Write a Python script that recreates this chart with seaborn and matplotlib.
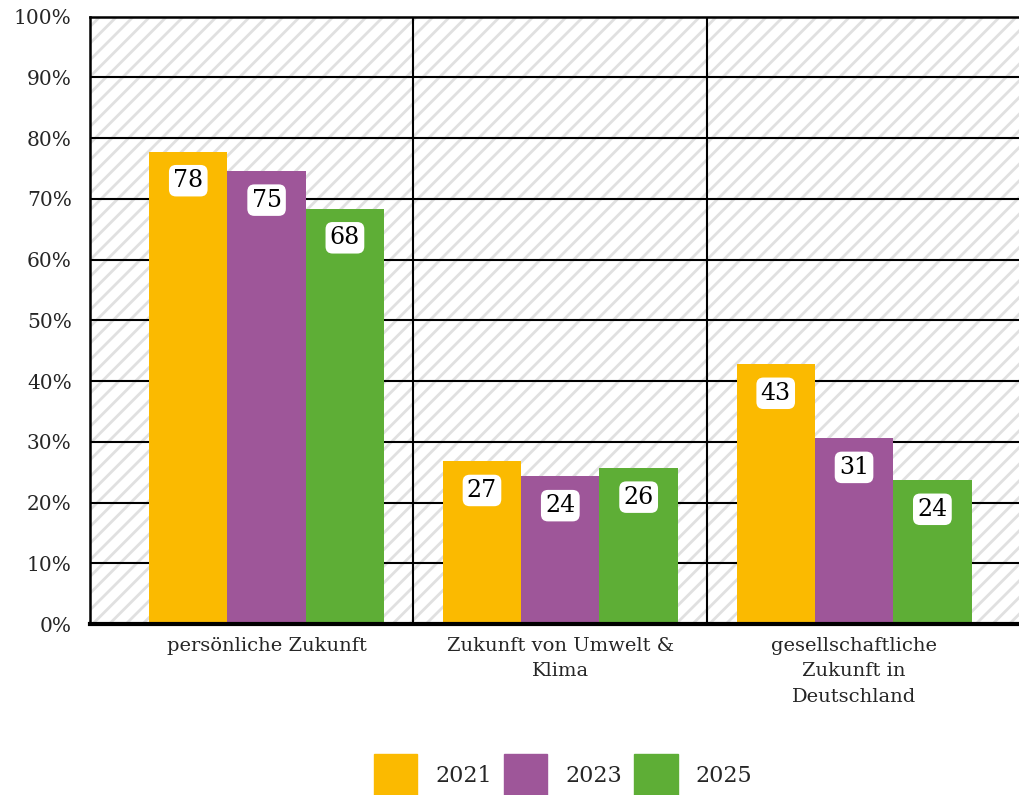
import matplotlib
matplotlib.use("Agg")
import matplotlib.pyplot as plt
import matplotlib.patches as mpatches
import pandas as pd
import seaborn as sns

categories = [
    "persönliche Zukunft",
    "Zukunft von Umwelt &\nKlima",
    "gesellschaftliche\nZukunft in\nDeutschland",
]
years = ["2021", "2023", "2025"]
values_2021 = [77.8, 26.8, 42.8]
values_2023 = [74.6, 24.3, 30.6]
values_2025 = [68.4, 25.7, 23.7]
colors = ["#FBBA00", "#9E5699", "#5EAE36"]

rows = []
for year, vals in zip(years, [values_2021, values_2023, values_2025]):
    for cat, v in zip(categories, vals):
        rows.append({"Kategorie": cat, "Jahr": year, "Wert": v})
df = pd.DataFrame(rows)

sns.set_theme(style="white")
plt.rcParams["font.family"] = ["DejaVu Serif"]
plt.rcParams["hatch.linewidth"] = 2.0
plt.rcParams["hatch.color"] = "#e0e0e0"

fig = plt.figure(figsize=(10.2, 7.95), dpi=100)
ax = fig.add_axes([0.088, 0.215, 0.912, 0.764])

sns.barplot(
    data=df,
    x="Kategorie",
    y="Wert",
    hue="Jahr",
    order=categories,
    hue_order=years,
    palette=colors,
    width=0.8,
    saturation=1,
    ax=ax,
    zorder=3,
    linewidth=0,
)

# hatched background
ax.add_patch(
    mpatches.Rectangle(
        (0, 0), 1, 1, transform=ax.transAxes, facecolor="white",
        edgecolor="#e0e0e0", hatch="//", linewidth=0, zorder=0,
    )
)

for container in ax.containers:
    for bar in container:
        h = bar.get_height()
        ax.annotate(
            f"{h:.0f}",
            (bar.get_x() + bar.get_width() / 2, h),
            xytext=(0, -21), textcoords="offset points",
            ha="center", va="center", fontsize=17, color="black", zorder=5,
            bbox=dict(boxstyle="round,pad=0.18,rounding_size=0.3",
                      facecolor="white", edgecolor="none"),
        )

ax.set_xlim(-0.602, 2.565)
ax.set_ylim(0, 100)
ax.set_yticks(range(0, 101, 10))
ax.set_yticklabels([f"{t}%" for t in range(0, 101, 10)], fontsize=14.5)
ax.tick_params(axis="y", length=0, pad=13)
ax.tick_params(axis="x", length=0, pad=9, labelsize=14)
for lbl in ax.get_xticklabels():
    lbl.set_linespacing(1.55)
ax.set_xlabel("")
ax.set_ylabel("")

for y in range(10, 100, 10):
    ax.axhline(y, color="black", lw=1.5, zorder=1)
for x in [0.5, 1.5]:
    ax.axvline(x, color="black", lw=1.5, zorder=1)

ax.spines["right"].set_visible(False)
for side in ["left", "top"]:
    ax.spines[side].set_color("black")
    ax.spines[side].set_linewidth(1.8)
ax.spines["bottom"].set_color("black")
ax.spines["bottom"].set_linewidth(3)
ax.spines["bottom"].set_zorder(6)

ax.legend_.remove()
handles = [mpatches.Patch(color=c) for c in colors]
fig.legend(
    handles, years, loc="center", bbox_to_anchor=(0.552, 0.025),
    ncol=3, frameon=False, fontsize=16,
    handlelength=1.95, handleheight=2.6, handletextpad=0.8, columnspacing=0.55,
)

fig.savefig("out.png", dpi=100)
